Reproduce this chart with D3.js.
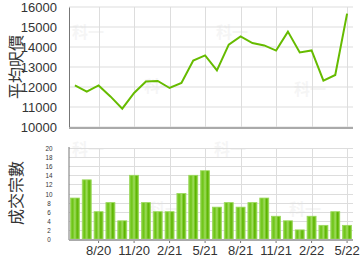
<!DOCTYPE html>
<html>
<head>
<meta charset="utf-8">
<script src="https://cdn.jsdelivr.net/npm/d3@7"></script>
<style>
body { margin: 0; background: #fff; }
text { font-family: "Liberation Sans Narrow", "Liberation Sans", Arial, sans-serif; fill: #333; }
</style>
</head>
<body>
<script>
// months 6/20 .. 5/22
var months = ["6/20","7/20","8/20","9/20","10/20","11/20","12/20","1/21","2/21","3/21","4/21","5/21",
	"6/21","7/21","8/21","9/21","10/21","11/21","12/21","1/22","2/22","3/22","4/22","5/22"];
var avgPrice = [12080, 11770, 12080, 11530, 10920, 11700, 12270, 12300, 11950, 12200, 13320, 13580,
	12830, 14120, 14530, 14200, 14080, 13820, 14770, 13730, 13830, 12320, 12600, 15670];
var deals = [9, 13, 6, 8, 4, 14, 8, 6, 6, 10, 14, 15, 7, 8, 7, 8, 9, 5, 4, 2, 5, 3, 6, 3];
var xTicks = ["8/20","11/20","2/21","5/21","8/21","11/21","2/22","5/22"];
var priceTicks = [10000, 11000, 12000, 13000, 14000, 15000, 16000];
var dealTicks = [0, 2, 4, 6, 8, 10, 12, 14, 16, 18, 20];

var width = 360, height = 270;
var left = 69, right = 353;

var svg = d3.select("body").append("svg")
	.attr("width", width)
	.attr("height", height);

var defs = svg.append("defs");
var grad = defs.append("linearGradient").attr("id", "barGrad")
	.attr("x1", "0").attr("x2", "1").attr("y1", "0").attr("y2", "0");
grad.append("stop").attr("offset", "0%").attr("stop-color", "#8fd44a");
grad.append("stop").attr("offset", "25%").attr("stop-color", "#6cc414");
grad.append("stop").attr("offset", "50%").attr("stop-color", "#9fdc5e");
grad.append("stop").attr("offset", "75%").attr("stop-color", "#5cb500");
grad.append("stop").attr("offset", "100%").attr("stop-color", "#86cf3c");

var x = d3.scaleBand()
	.domain(months)
	.range([left, right])
	.paddingInner(0.24)
	.paddingOuter(0.12);
var cx = (m) => { return x(m) + x.bandwidth() / 2; };

// watermark
var marks = [[88, 38], [160, 92], [232, 38], [310, 95], [88, 155], [165, 215], [230, 155], [305, 215]];
svg.selectAll("text.wm").data(marks).enter()
	.append("text")
	.attr("class", "wm")
	.attr("x", (d) => { return d[0]; })
	.attr("y", (d) => { return d[1]; })
	.attr("text-anchor", "middle")
	.attr("font-size", "16px")
	.attr("font-weight", "bold")
	.style("font-family", "'Noto Sans CJK TC', sans-serif")
	.style("fill", "#000")
	.style("opacity", 0.035)
	.text("科一");

// ---------- top chart ----------
var yTop = d3.scaleLinear().domain([10000, 16000]).range([127, 7]);
var gTop = svg.append("g");

gTop.selectAll("line.hg").data(priceTicks).enter()
	.append("line")
	.attr("x1", left).attr("x2", right)
	.attr("y1", (d) => { return yTop(d); })
	.attr("y2", (d) => { return yTop(d); })
	.style("stroke", "#ddd");
gTop.selectAll("line.vg").data(xTicks).enter()
	.append("line")
	.attr("x1", (d) => { return Math.round(cx(d)) + 0.5; })
	.attr("x2", (d) => { return Math.round(cx(d)) + 0.5; })
	.attr("y1", yTop(16000)).attr("y2", yTop(10000))
	.style("stroke", "#ddd");

var topLeft = d3.axisLeft(yTop).tickValues(priceTicks).tickSize(0).tickPadding(12)
	.tickFormat(d3.format("d"));
gTop.append("g")
	.attr("transform", "translate(" + left + ",0)")
	.call(topLeft)
	.call((g) => { g.select(".domain").style("stroke", "#777"); })
	.selectAll("text")
	.attr("font-size", "13px")
	.style("font-family", "'Liberation Sans Narrow', Arial, sans-serif");

gTop.append("line")
	.attr("x1", left).attr("x2", right)
	.attr("y1", 128).attr("y2", 128)
	.style("stroke", "#aaa").style("stroke-width", 2);

var line = d3.line()
	.x((d, i) => { return cx(months[i]); })
	.y((d) => { return yTop(d); });
gTop.append("path")
	.datum(avgPrice)
	.attr("d", line)
	.style("fill", "none")
	.style("stroke", "#66bb00")
	.style("stroke-width", 2);

gTop.append("text")
	.attr("transform", "translate(22,67) rotate(-90)")
	.attr("text-anchor", "middle")
	.attr("font-size", "16px")
	.style("font-family", "'Noto Sans CJK TC', sans-serif")
	.text("平均呎價");

// ---------- bottom chart ----------
var yBot = d3.scaleLinear().domain([0, 20]).range([239, 148]);
var gBot = svg.append("g");

gBot.selectAll("line.hg").data(dealTicks).enter()
	.append("line")
	.attr("x1", left).attr("x2", right)
	.attr("y1", (d) => { return Math.round(yBot(d)) + 0.5; })
	.attr("y2", (d) => { return Math.round(yBot(d)) + 0.5; })
	.style("stroke", "#ddd");
gBot.selectAll("line.vg").data(xTicks).enter()
	.append("line")
	.attr("x1", (d) => { return Math.round(cx(d)) + 0.5; })
	.attr("x2", (d) => { return Math.round(cx(d)) + 0.5; })
	.attr("y1", yBot(20)).attr("y2", yBot(0))
	.style("stroke", "#ddd");

gBot.selectAll("rect.bar").data(deals).enter()
	.append("rect")
	.attr("class", "bar")
	.attr("x", (d, i) => { return x(months[i]); })
	.attr("y", (d) => { return yBot(d); })
	.attr("width", x.bandwidth())
	.attr("height", (d) => { return yBot(0) - yBot(d); })
	.style("fill", "url(#barGrad)")
	.style("stroke", "#9ad85a")
	.style("stroke-width", 0.8);

gBot.append("line")
	.attr("x1", left).attr("x2", left)
	.attr("y1", 147).attr("y2", 240)
	.style("stroke", "#777");

var botAxis = d3.axisBottom(x).tickValues(xTicks).tickSize(4).tickPadding(3);
gBot.append("g")
	.attr("transform", "translate(0,239)")
	.call(botAxis)
	.call((g) => {
		g.select(".domain").remove();
		g.selectAll(".tick line").style("stroke", "#777");
	})
	.selectAll("text")
	.attr("font-size", "13px");
gBot.append("line")
	.attr("x1", left).attr("x2", right)
	.attr("y1", 240).attr("y2", 240)
	.style("stroke", "#aaa").style("stroke-width", 2);

gBot.selectAll("text.yl").data(dealTicks).enter()
	.append("text")
	.attr("class", "yl")
	.attr("x", 49)
	.attr("y", (d) => { return yBot(d) + 3; })
	.attr("text-anchor", "middle")
	.attr("font-size", "7.6px")
	.attr("textLength", (d) => { return d >= 10 ? 7 : 3.5; })
	.attr("lengthAdjust", "spacingAndGlyphs")
	.text((d) => { return d; });

gBot.append("text")
	.attr("transform", "translate(22,193) rotate(-90)")
	.attr("text-anchor", "middle")
	.attr("font-size", "16px")
	.style("font-family", "'Noto Sans CJK TC', sans-serif")
	.text("成交宗數");
</script>
</body>
</html>
